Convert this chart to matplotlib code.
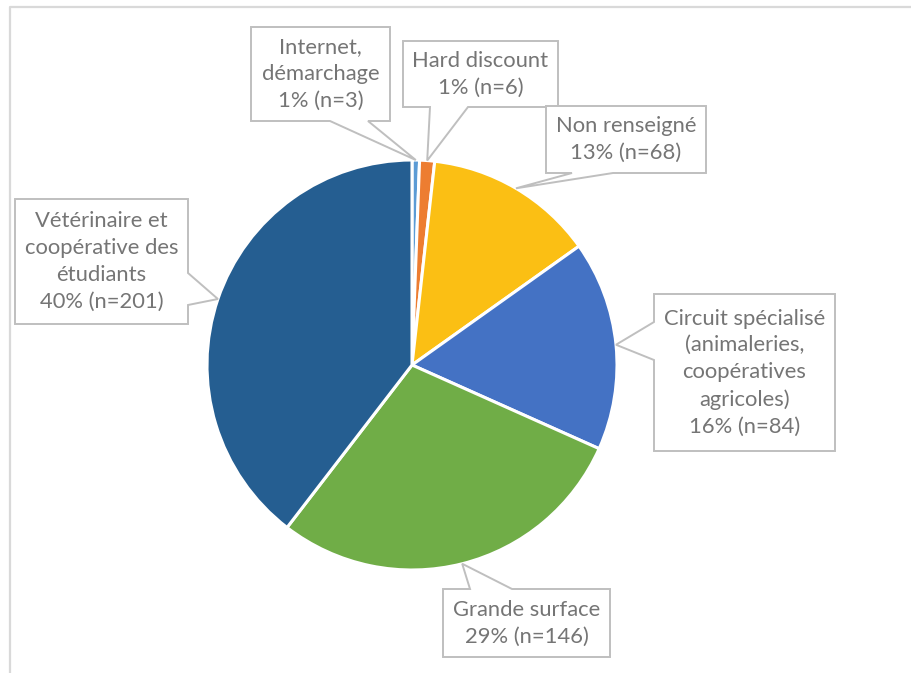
import matplotlib
matplotlib.use("Agg")
import matplotlib.pyplot as plt
from matplotlib.patches import Polygon
import numpy as np

# Purchase channels, counts and the percentage shown on each label
categories = [
    "Internet,\ndémarchage",
    "Hard discount",
    "Non renseigné",
    "Circuit spécialisé\n(animaleries,\ncoopératives\nagricoles)",
    "Grande surface",
    "Vétérinaire et\ncoopérative des\nétudiants",
]
counts = [3, 6, 68, 84, 146, 201]
percent_labels = ["1%", "1%", "13%", "16%", "29%", "40%"]

colors = ["#5B9BD5", "#ED7D31", "#FBBF14", "#4472C4", "#70AD47", "#255E91"]

W, H = 911, 673
plt.rcParams["font.family"] = ["Lato", "DejaVu Sans"]

fig = plt.figure(figsize=(W / 100, H / 100), dpi=100)
ax = fig.add_axes([0, 0, 1, 1])

def fy(y):
    # pixel row (from top) -> data y (from bottom)
    return H - y

cx, cy, R = 412, fy(365), 205

wedges, _ = ax.pie(
    counts, colors=colors, startangle=90, counterclock=False,
    radius=R, center=(cx, cy),
    wedgeprops=dict(edgecolor="white", linewidth=2.2),
)

# Callout boxes: rectangle (x0, y0, x1, y1 in pixel rows) and the edge
# carrying the pointer with its base span
callouts = [
    ((251, 27, 390, 121), "bottom", 330, 368),
    ((403, 41, 558, 107), "bottom", 430, 468),
    ((546, 106, 706, 173), "bottom", 572, 613),
    ((654, 294, 835, 451), "left", 322, 360),
    ((443, 589, 610, 657), "top", 470, 512),
    ((15, 199, 188, 324), "right", 273, 305),
]

edge_col = "#BFBFBF"
text_col = "#757575"

for w, cat, n, pct, (rect, side, a, b) in zip(
        wedges, categories, counts, percent_labels, callouts):
    mid = np.deg2rad((w.theta1 + w.theta2) / 2)
    tx, ty = cx + R * np.cos(mid), cy + R * np.sin(mid)
    x0, y0, x1, y1 = rect
    Y0, Y1 = fy(y0), fy(y1)
    if side == "bottom":
        pts = [(x0, Y0), (x1, Y0), (x1, Y1), (b, Y1), (tx, ty), (a, Y1), (x0, Y1)]
    elif side == "top":
        pts = [(x0, Y0), (a, Y0), (tx, ty), (b, Y0), (x1, Y0), (x1, Y1), (x0, Y1)]
    elif side == "left":
        pts = [(x0, Y0), (x1, Y0), (x1, Y1), (x0, Y1), (x0, fy(b)), (tx, ty), (x0, fy(a))]
    else:
        pts = [(x0, Y0), (x1, Y0), (x1, fy(a)), (tx, ty), (x1, fy(b)), (x1, Y1), (x0, Y1)]
    ax.add_patch(Polygon(pts, closed=True, facecolor="white",
                         edgecolor=edge_col, linewidth=1.4, zorder=5,
                         joinstyle="miter"))
    ax.text((x0 + x1) / 2, (Y0 + Y1) / 2, f"{cat}\n{pct} (n={n})",
            ha="center", va="center", fontsize=15.8, color=text_col,
            linespacing=1.42, zorder=6)

# Chart area border
ax.plot([10, 10, W + 5], [-5, fy(7), fy(7)], color="#D9D9D9",
        linewidth=1.6, solid_capstyle="butt", zorder=1)

ax.set_xlim(0, W)
ax.set_ylim(0, H)
ax.set_aspect("auto")
ax.axis("off")

fig.savefig("out.png", dpi=100, facecolor="white")
